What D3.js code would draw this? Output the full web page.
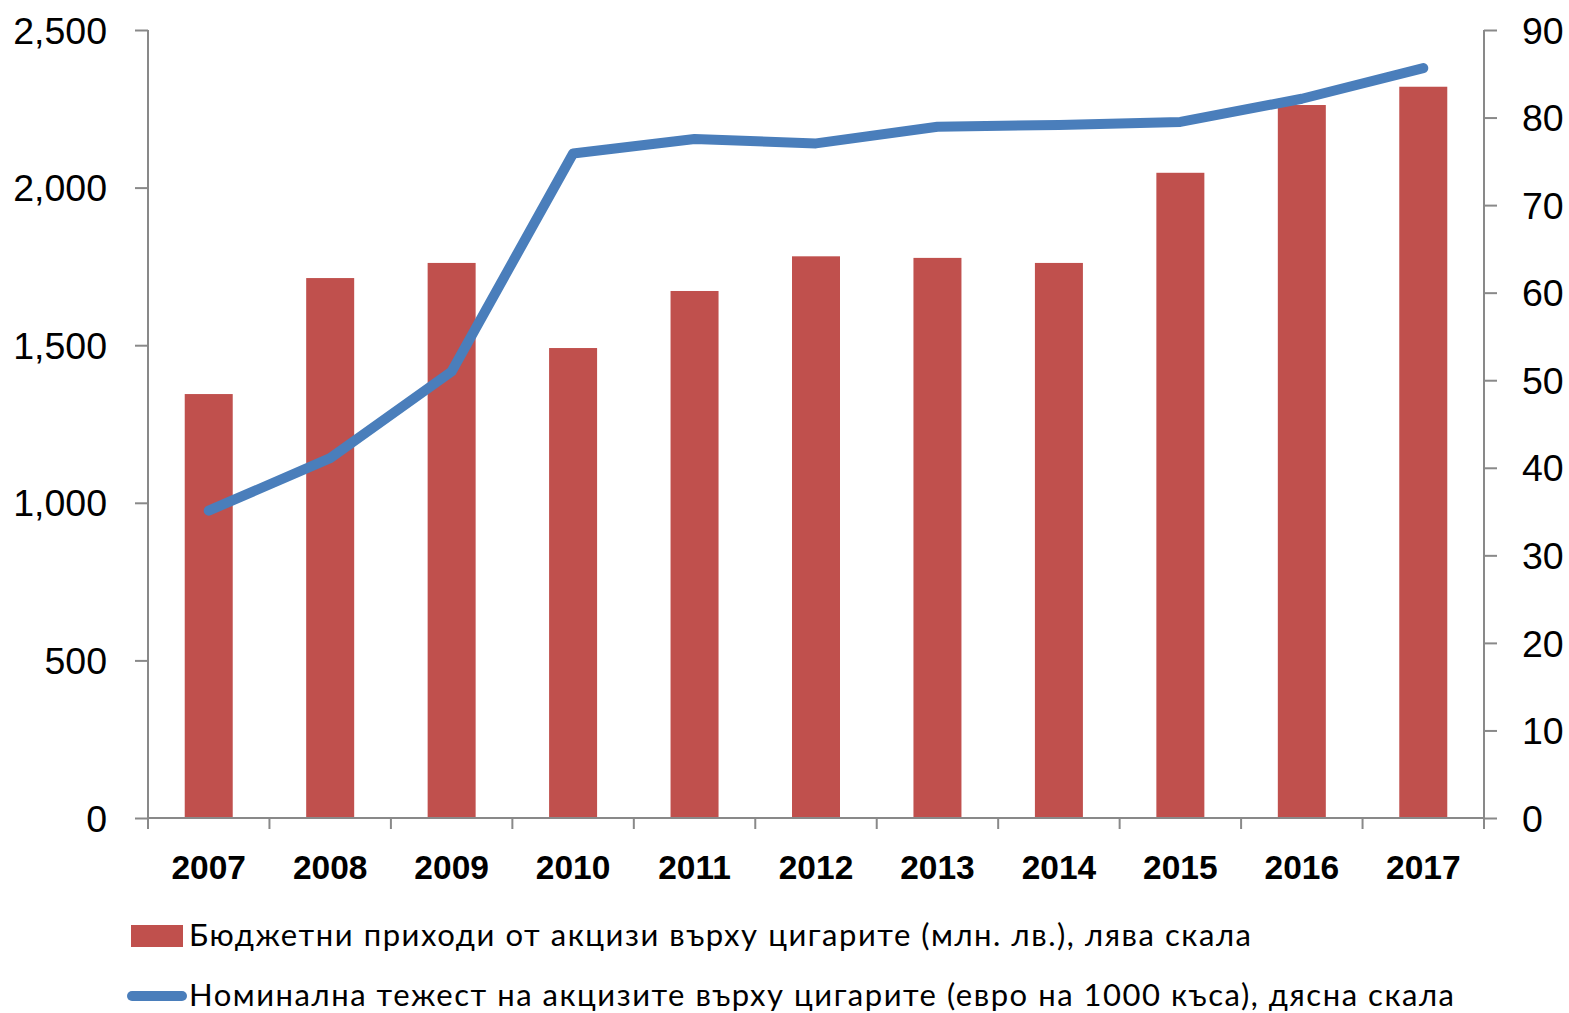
<!DOCTYPE html>
<html>
<head>
<meta charset="utf-8">
<script src="https://cdn.jsdelivr.net/npm/d3@7"></script>
<style>
  body{margin:0;background:#fff;}
  svg{display:block;font-family:Lato,"Open Sans",sans-serif;}
</style>
</head>
<body>
<svg id="chart" width="1569" height="1013"></svg>
<script>
// data
var years=["2007","2008","2009","2010","2011","2012","2013","2014","2015","2016","2017"];
var revenue=[1345,1713,1761,1491,1672,1782,1777,1761,2047,2262,2320];
var excise=[35.1,41.1,51.0,75.9,77.55,77.05,78.95,79.15,79.5,82.15,85.65];
var leftTicks=[0,500,1000,1500,2000,2500];
var rightTicks=[0,10,20,30,40,50,60,70,80,90];
var legendBars="Бюджетни приходи от акцизи върху цигарите (млн. лв.), лява скала";
var legendLine="Номинална тежест на акцизите върху цигарите (евро на 1000 къса), дясна скала";

var svg=d3.select("#chart"),
 margin={top:30,right:1569-1484,bottom:1013-818,left:148},
 width=+svg.attr("width")-margin.left-margin.right,
 height=+svg.attr("height")-margin.top-margin.bottom;

var g=svg.append("g").attr("transform","translate("+margin.left+","+margin.top+")");

var xb=d3.scaleBand().domain(years).range([0,width]);
var yl=d3.scaleLinear().domain([0,2500]).range([height,0]);
var yr=d3.scaleLinear().domain([0,90]).range([height,0]);

var axisColor="#898989";

// bars
g.selectAll(".bar")
  .data(revenue)
  .enter().append("rect")
  .attr("class","bar")
  .attr("x",function(d,i){return xb(years[i])+xb.bandwidth()/2-24;})
  .attr("width",48)
  .attr("y",function(d){return yl(d);})
  .attr("height",function(d){return height-yl(d);})
  .attr("fill","#c0504d");

// left axis
var la=g.append("g")
  .call(d3.axisLeft(yl).tickValues(leftTicks).tickSize(13).tickPadding(28).tickFormat(d3.format(",")));
la.select(".domain").attr("stroke",axisColor).attr("stroke-width",2).attr("d","M0,"+height+"V0");
la.selectAll(".tick line").attr("stroke",axisColor).attr("stroke-width",2);
la.selectAll("text").attr("font-size",37.5).attr("fill","#000").attr("dy","0.35em");

// right axis
var ra=g.append("g").attr("transform","translate("+width+",0)")
  .call(d3.axisRight(yr).tickValues(rightTicks).tickSize(13).tickPadding(25));
ra.select(".domain").attr("stroke",axisColor).attr("stroke-width",2).attr("d","M0,"+height+"V0");
ra.selectAll(".tick line").attr("stroke",axisColor).attr("stroke-width",2);
ra.selectAll("text").attr("font-size",37.5).attr("fill","#000").attr("dy","0.35em");

// bottom axis
var ba=g.append("g").attr("transform","translate(0,"+height+")")
  .call(d3.axisBottom(xb).tickSize(0).tickPadding(37));
ba.select(".domain").attr("stroke",axisColor).attr("stroke-width",2).attr("d","M0,0H"+width);
ba.selectAll("text").attr("font-size",33.5).attr("font-weight","bold").attr("fill","#000");
ba.selectAll(".sep")
  .data(d3.range(years.length+1))
  .enter().append("line")
  .attr("x1",function(i){return i*xb.step();})
  .attr("x2",function(i){return i*xb.step();})
  .attr("y1",0).attr("y2",11)
  .attr("stroke",axisColor).attr("stroke-width",2);

// line
var line=d3.line()
  .x(function(d,i){return xb(years[i])+xb.bandwidth()/2;})
  .y(function(d){return yr(d);});
g.append("path")
  .datum(excise)
  .attr("d",line)
  .attr("fill","none")
  .attr("stroke","#4a7ebb")
  .attr("stroke-width",10)
  .attr("stroke-linecap","round")
  .attr("stroke-linejoin","round");

// legend
var lg=svg.append("g");
lg.append("rect").attr("x",131).attr("y",925).attr("width",52).attr("height",22).attr("fill","#c0504d");
lg.append("text").attr("x",189).attr("y",946).attr("font-size",31)
  .attr("textLength",1062).attr("lengthAdjust","spacing").text(legendBars);
lg.append("line").attr("x1",132).attr("x2",182).attr("y1",996).attr("y2",996)
  .attr("stroke","#4a7ebb").attr("stroke-width",10).attr("stroke-linecap","round");
lg.append("text").attr("x",189).attr("y",1006).attr("font-size",31)
  .attr("textLength",1265).attr("lengthAdjust","spacing").text(legendLine);
</script>
</body>
</html>
